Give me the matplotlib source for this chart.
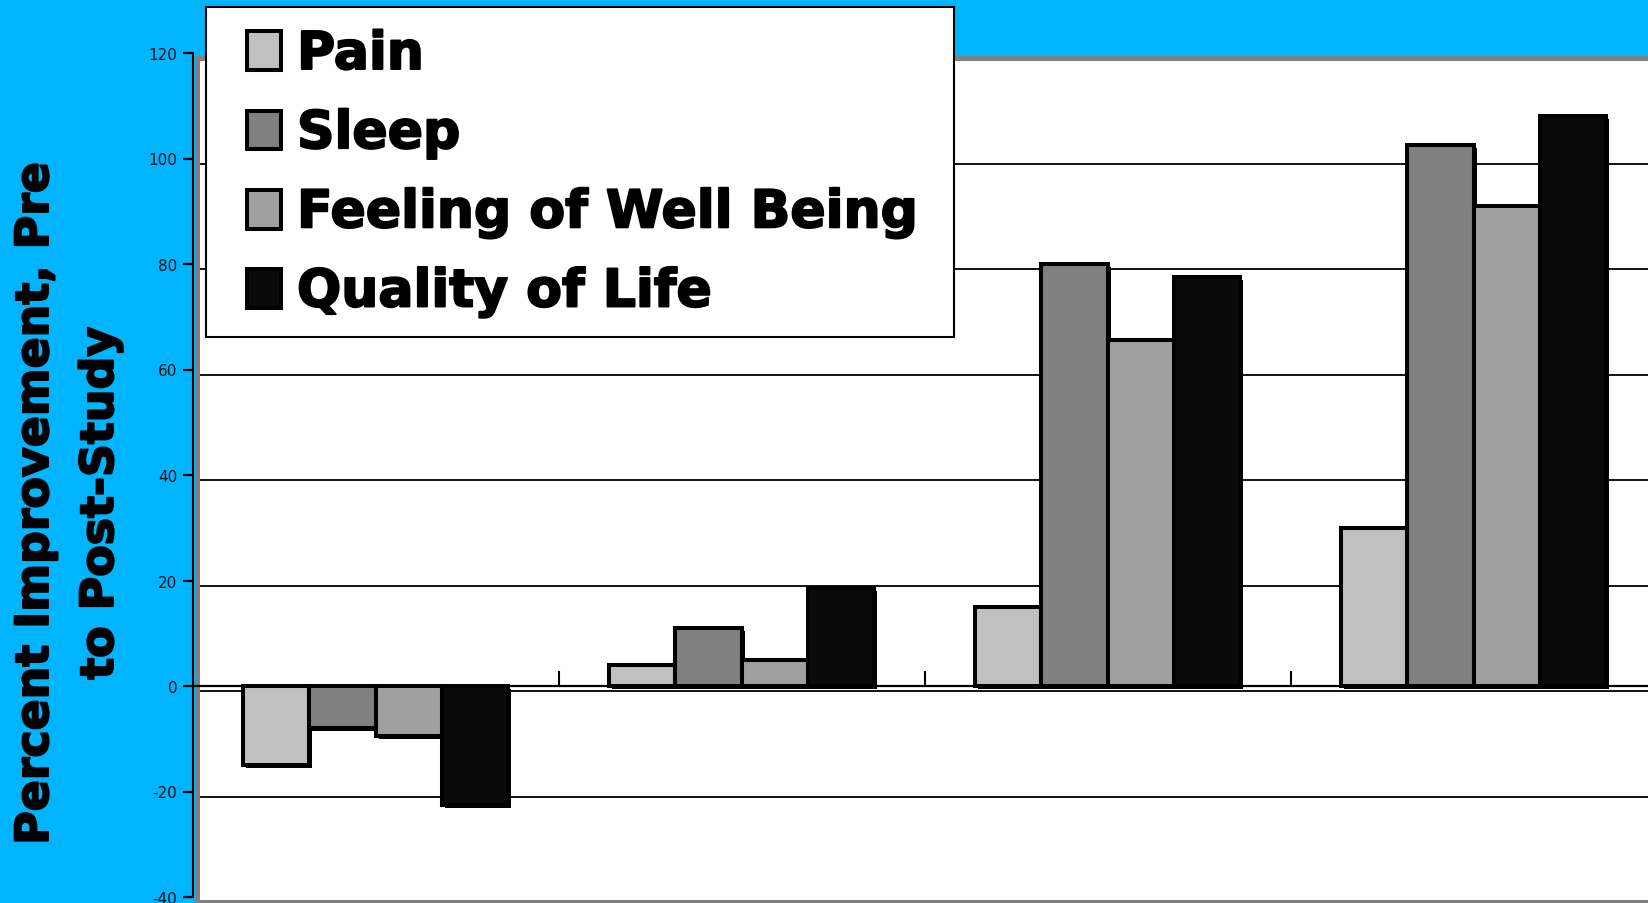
import matplotlib
matplotlib.use("Agg")
import matplotlib.pyplot as plt
import matplotlib.patheffects as pe
from matplotlib.patches import Rectangle, Patch
import numpy as np

# percent improvement, pre to post-study, for each of the four groups
groups = ["Group 1", "Group 2", "Group 3", "Group 4"]
pain = [-15, 4, 15, 30]
sleep = [-8, 11, 80, 102.5]
well_being = [-9.5, 5, 65.5, 91]
quality = [-22.5, 18.5, 77.5, 108]

series = ["Pain", "Sleep", "Feeling of Well Being", "Quality of Life"]
colors = ["#c0c0c0", "#808080", "#a0a0a0", "#0a0a0a"]
yticks = [-40, -20, 0, 20, 40, 60, 80, 100, 120]

W, H = 1648, 904
fig = plt.figure(figsize=(W / 100, H / 100), dpi=100, facecolor="#00b4ff")


def px_box(left, top, width, height):
    # pixel box (from top-left) -> figure fraction rect
    return [left / W, 1 - (top + height) / H, width / W, height / H]


# white plot area with grey frame, sits slightly right/below the axis
bg = fig.add_axes(px_box(196.5, 59, 1464, 844), zorder=0)
bg.set_facecolor("white")
bg.set_xlim(-0.5, 3.5)
bg.set_ylim(-40, 120)
bg.set_yticks(yticks[1:-1])
bg.set_xticks([])
bg.tick_params(axis="y", length=0, labelleft=False)
bg.grid(axis="y", color="black", linewidth=1.3)
bg.set_axisbelow(True)
for s in bg.spines.values():
    s.set_color("#808080")
    s.set_linewidth(3.6)

ax = fig.add_axes(px_box(192.5, 54, 1464, 844), zorder=1)
ax.patch.set_alpha(0)
ax.set_xlim(-0.5, 3.5)
ax.set_ylim(-40, 120)

x = np.arange(len(groups))
w = 0.181
shadow = [pe.SimplePatchShadow(offset=(2.2, -2.2), shadow_rgbFace="black", alpha=1.0),
          pe.Normal()]
handles = []
for i, (vals, name, c) in enumerate(zip([pain, sleep, well_being, quality], series, colors)):
    bars = ax.bar(x + (i - 1.5) * w, vals, w, color=c, edgecolor="black",
                  linewidth=2.9, zorder=3)
    for b in bars:
        b.set_path_effects(shadow)
    handles.append(Patch(facecolor=c, edgecolor="black", linewidth=2.9))

ax.spines["top"].set_visible(False)
ax.spines["right"].set_visible(False)
ax.spines["left"].set_linewidth(1.5)
ax.spines["bottom"].set_position(("data", 0))
ax.spines["bottom"].set_linewidth(1.6)

ax.set_yticks(yticks)
ax.set_yticklabels([str(t) for t in yticks], fontsize=11, color="#111111")
ax.tick_params(axis="y", direction="out", length=7, width=1.6, pad=4)
ax.set_xticks(x[:-1] + 0.5)
ax.set_xticklabels([])
ax.tick_params(axis="x", direction="in", length=11, width=1.5)

# heavier strokes for the big bold labels
heavy = [pe.withStroke(linewidth=1.4, foreground="black")]

fig.text(68 / W, 1 - 504 / H, "Percent Improvement, Pre\nto Post-Study",
         rotation=90, ha="center", va="center", multialignment="center",
         fontsize=33, fontweight="bold", linespacing=1.57, color="black",
         path_effects=heavy)

# legend box
fig.patches.append(Rectangle((206 / W, 1 - 338 / H), 748 / W, 330 / H,
                             transform=fig.transFigure, facecolor="white",
                             edgecolor="black", linewidth=1.5, zorder=4))
leg = fig.legend(handles, series, loc="upper left",
                 bbox_to_anchor=(247 / W, 1 - 31 / H), frameon=False,
                 prop={"size": 37.5, "weight": "bold"}, borderpad=0,
                 handlelength=0.66, handleheight=0.77, handletextpad=0.3,
                 labelspacing=0.56, borderaxespad=0)
leg.set_zorder(6)
for t in leg.get_texts():
    t.set_path_effects(heavy)

fig.savefig("out.png", dpi=100, facecolor=fig.get_facecolor())
